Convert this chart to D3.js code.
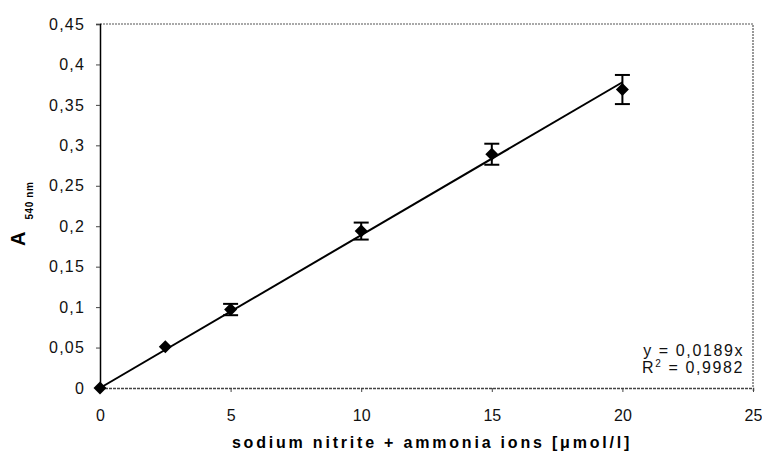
<!DOCTYPE html>
<html>
<head>
<meta charset="utf-8">
<script src="https://cdn.jsdelivr.net/npm/d3@7"></script>
<style>
  body { margin: 0; background: #fff; }
  svg { font-family: "Liberation Sans", Arial, sans-serif; }
</style>
</head>
<body>
<svg id="chart" width="762" height="462"></svg>
<script>
// values
var concs = [0, 2.5, 5, 10, 15, 20];
var absorb = [0, 0.051, 0.097, 0.194, 0.289, 0.369];
var errs = [0, 0.002, 0.007, 0.0105, 0.013, 0.018];
var slope = 0.0189;
var xTicks = [0, 5, 10, 15, 20, 25];
var yTicks = [0, 0.05, 0.1, 0.15, 0.2, 0.25, 0.3, 0.35, 0.4, 0.45];

var svg = d3.select("#chart");
var plotLeft = 100, plotRight = 753, plotTop = 24, plotBottom = 388;

var x = d3.scaleLinear().domain([0, 25]).range([plotLeft, plotRight]);
var y = d3.scaleLinear().domain([0, 0.45]).range([plotBottom, plotTop]);

var fmt = function(d) { return String(+d.toFixed(2)).replace(".", ","); };

// plot area frame (top/right dotted)
svg.append("path")
  .attr("d", "M" + plotLeft + "," + plotTop + "H" + plotRight + "V" + plotBottom)
  .attr("fill", "none").attr("stroke", "#555").attr("stroke-width", 1.2)
  .attr("stroke-dasharray", "2,1");

// axes
var yAxis = svg.append("g").attr("transform", "translate(" + plotLeft + ",0)")
  .call(d3.axisLeft(y).tickValues(yTicks).tickFormat(fmt).tickSize(4).tickPadding(11));
yAxis.select(".domain").attr("stroke", "#000").attr("stroke-width", 1.5);
yAxis.selectAll(".tick text").attr("letter-spacing", 1.2);

var xAxis = svg.append("g").attr("transform", "translate(0," + plotBottom + ")")
  .call(d3.axisBottom(x).tickValues(xTicks).tickFormat(fmt).tickSize(4).tickPadding(18));
xAxis.select(".domain").attr("stroke", "#444").attr("stroke-width", 1.5)
  .attr("stroke-dasharray", "3,1");

svg.selectAll(".tick line").attr("stroke", "#444");
svg.selectAll(".tick text").attr("font-size", 16).attr("fill", "#111")
  .attr("font-family", "Liberation Sans, Arial, sans-serif");

// trend line
svg.append("line")
  .attr("x1", x(0)).attr("y1", y(0))
  .attr("x2", x(20)).attr("y2", y(slope * 20))
  .attr("stroke", "#000").attr("stroke-width", 2);

// error bars
var pts = concs.map(function(c, i) { return { x: c, y: absorb[i], e: errs[i] }; });
var eb = svg.append("g").attr("stroke", "#000").attr("stroke-width", 2);
pts.filter(function(d) { return d.e > 0.003; }).forEach(function(d) {
  eb.append("line").attr("x1", x(d.x)).attr("x2", x(d.x))
    .attr("y1", y(d.y - d.e)).attr("y2", y(d.y + d.e));
  [d.y - d.e, d.y + d.e].forEach(function(v) {
    eb.append("line").attr("x1", x(d.x) - 7.5).attr("x2", x(d.x) + 7.5)
      .attr("y1", y(v)).attr("y2", y(v));
  });
});

// diamond markers
svg.append("g").selectAll("path")
  .data(pts)
  .enter()
  .append("path")
  .attr("transform", function(d) { return "translate(" + x(d.x) + "," + y(d.y) + ")"; })
  .attr("d", "M0,-6.5L6.5,0L0,6.5L-6.5,0Z")
  .attr("fill", "#000");

// equation
var eq = svg.append("g").attr("font-size", 16).attr("fill", "#111")
  .attr("text-anchor", "end").attr("letter-spacing", 1.6);
eq.append("text").attr("x", 744).attr("y", 356).text("y = 0,0189x");
var r2 = eq.append("text").attr("x", 744).attr("y", 373);
r2.append("tspan").text("R");
r2.append("tspan").attr("font-size", 10).attr("dy", -6).text("2");
r2.append("tspan").attr("dy", 6).text(" = 0,9982");

// axis titles
svg.append("text")
  .attr("x", 432).attr("y", 448)
  .attr("text-anchor", "middle")
  .attr("font-size", 16).attr("font-weight", "bold")
  .attr("letter-spacing", 2.8)
  .text("sodium nitrite + ammonia ions [\u03bcmol/l]");

var yt = svg.append("text")
  .attr("transform", "translate(25,246) rotate(-90)")
  .attr("font-weight", "bold");
yt.append("tspan").attr("font-size", 20).text("A");
yt.append("tspan").attr("font-size", 10).attr("dx", 12).attr("dy", 8)
  .attr("letter-spacing", 0.6).text("540 nm");
</script>
</body>
</html>
